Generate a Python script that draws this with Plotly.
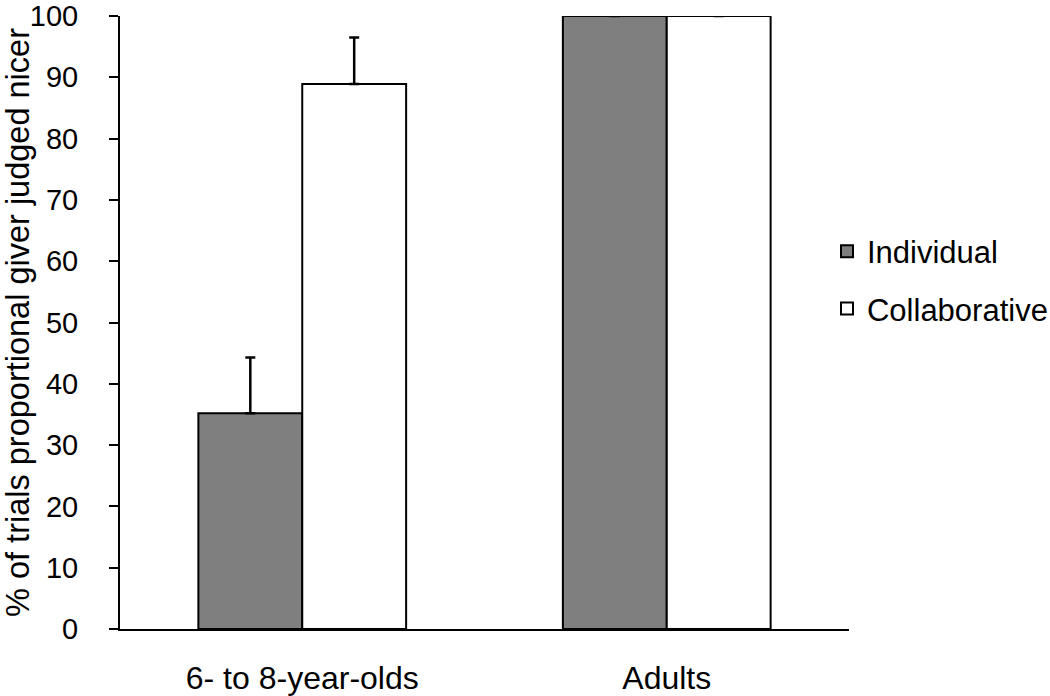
import plotly.graph_objects as go

categories = ["6- to 8-year-olds", "Adults"]
individual = [35.2, 100]
individual_err = [9.1, 0]
collaborative = [88.9, 100]
collaborative_err = [7.6, 0]
y_ticks = [0, 10, 20, 30, 40, 50, 60, 70, 80, 90, 100]

FONT = "Liberation Sans, Arial, sans-serif"

fig = go.Figure()
fig.add_trace(go.Bar(
    x=categories, y=individual, name="Individual", legendgroup="a",
    marker=dict(color="#7f7f7f", line=dict(color="black", width=2)),
    error_y=dict(type="data", array=individual_err, symmetric=False,
                 arrayminus=[0, 0], color="black", thickness=2.5, width=5),
))
fig.add_trace(go.Bar(
    x=categories, y=collaborative, name="Collaborative", legendgroup="b",
    marker=dict(color="white", line=dict(color="black", width=2)),
    error_y=dict(type="data", array=collaborative_err, symmetric=False,
                 arrayminus=[0, 0], color="black", thickness=2.5, width=5),
))

fig.update_layout(
    width=1050, height=696,
    margin=dict(l=120, r=201, t=16, b=67, autoexpand=False),
    plot_bgcolor="white", paper_bgcolor="white",
    barmode="group", bargap=0.43, bargroupgap=0,
    font=dict(family=FONT, size=31, color="black"),
    showlegend=True,
    legend=dict(xref="container", yref="container",
                x=0.7876, xanchor="left", y=0.5977, yanchor="middle",
                font=dict(size=31), tracegroupgap=14,
                bgcolor="rgba(0,0,0,0)"),
    xaxis=dict(range=[-0.5, 1.5], showline=True, linecolor="black", linewidth=2,
               ticks="", showgrid=False, zeroline=False, automargin=False,
               tickfont=dict(size=32), ticklabelstandoff=20),
    yaxis=dict(range=[0, 100], tickvals=y_ticks, showline=True, linecolor="black",
               linewidth=2, ticks="outside", ticklen=9, tickwidth=2, tickcolor="black",
               showgrid=False, zeroline=False, tickfont=dict(size=29), automargin=False,
               ticklabelstandoff=25, ticklabeloverflow="allow",
               title=dict(text="% of trials proportional giver judged nicer",
                          font=dict(size=32.5), standoff=0)),
)

fig.write_html("out.html", config={"displayModeBar": False},
               post_script="document.body.style.margin='0';")
